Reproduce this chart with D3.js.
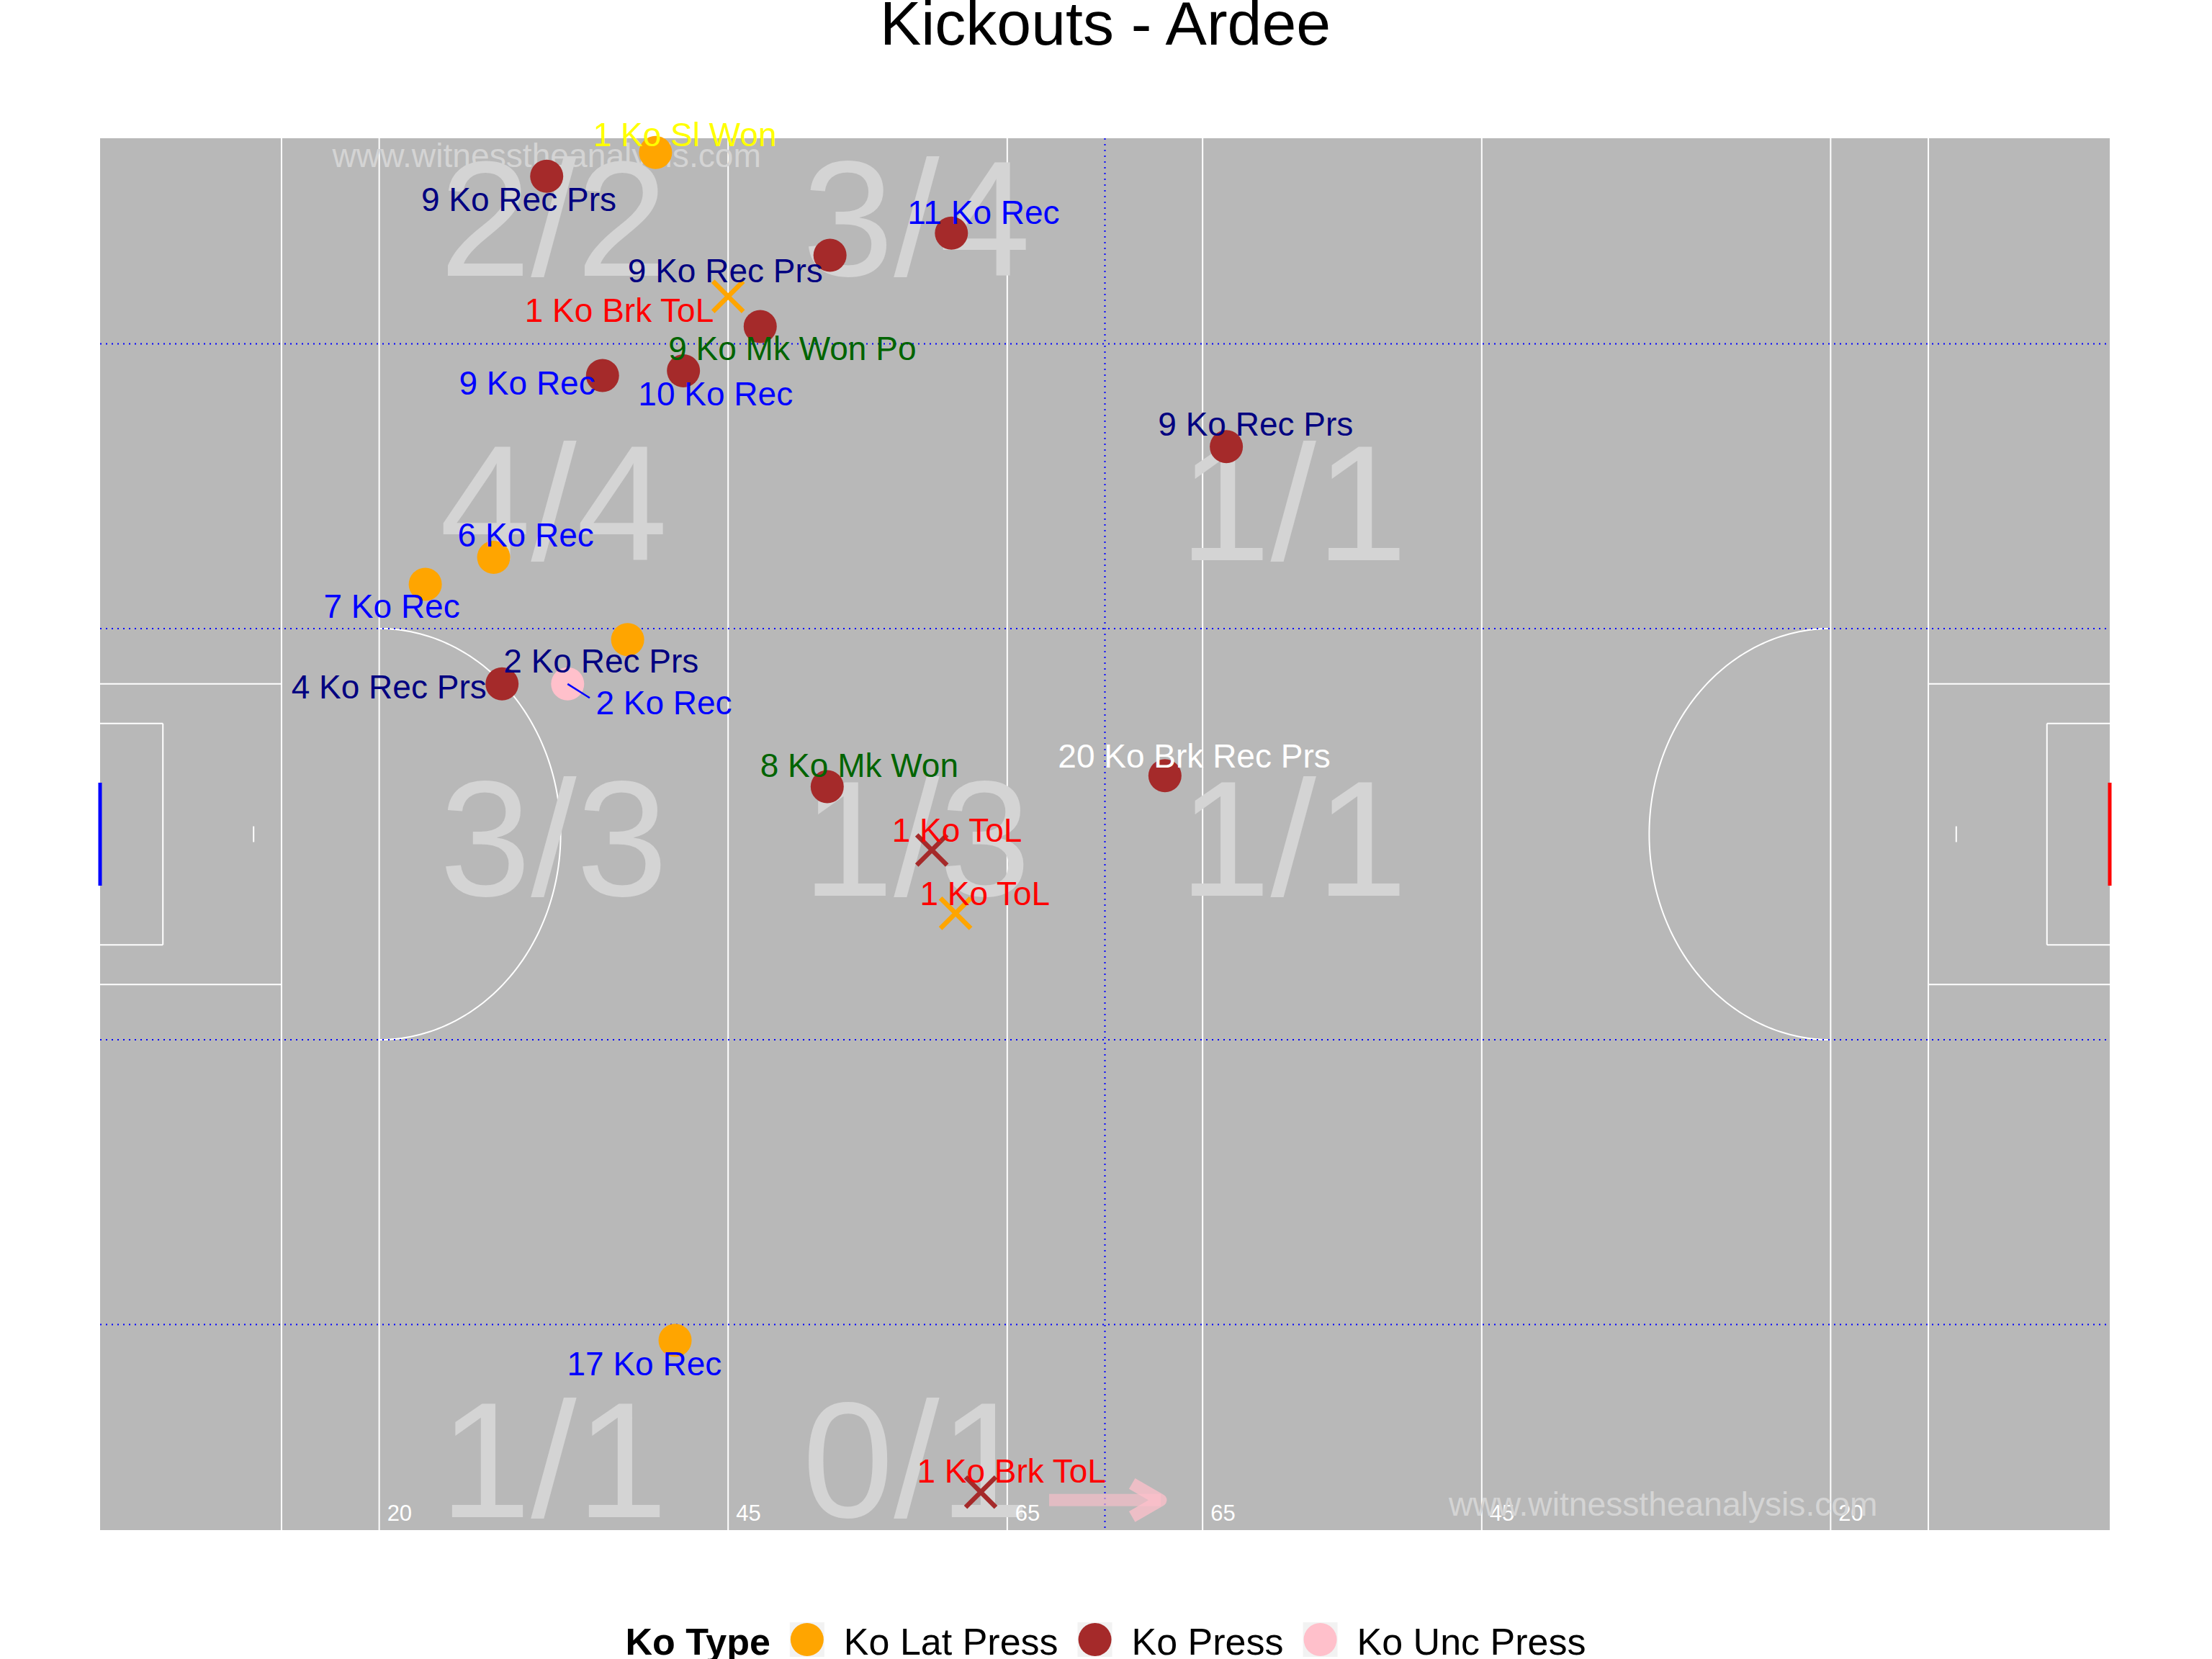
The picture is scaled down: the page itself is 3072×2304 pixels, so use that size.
<!DOCTYPE html>
<html><head><meta charset="utf-8">
<script src="https://cdn.jsdelivr.net/npm/d3@7"></script>
<style>body{margin:0;background:#fff}svg{display:block}text{font-family:"Liberation Sans",Arial,sans-serif}</style>
</head><body>
<svg id="chart" width="3072" height="2304"></svg>
<script>
// ---------- data ----------
const kickX = [39.8, 32.0, 52.3, 61.0, 45.0, 47.3, 36.0, 41.8, 28.2, 23.3, 37.8, 28.8, 33.5, 52.1, 59.6, 61.3, 80.7, 76.3, 41.2, 63.1];
const kickY = [87.1, 85.6, 80.6, 82.0, 78.0, 76.1, 73.0, 73.3, 61.5, 59.8, 56.3, 53.5, 53.5, 47.0, 43.0, 39.0, 68.5, 47.7, 12.0, 2.4];
const koType = ["Ko Lat Press","Ko Press","Ko Press","Ko Press","Ko Lat Press","Ko Press","Ko Press","Ko Press","Ko Lat Press","Ko Lat Press","Ko Lat Press","Ko Press","Ko Unc Press","Ko Press","Ko Press","Ko Lat Press","Ko Press","Ko Press","Ko Lat Press","Ko Press"];
const outcome = ["Ko Sl Won","Ko Rec Prs","Ko Rec Prs","Ko Rec","Ko Brk ToL","Ko Mk Won Po","Ko Rec","Ko Rec","Ko Rec","Ko Rec","Ko Rec Prs","Ko Rec Prs","Ko Rec","Ko Mk Won","Ko ToL","Ko ToL","Ko Rec Prs","Ko Brk Rec Prs","Ko Rec","Ko Brk ToL"];
const kickNo = [1, 9, 9, 11, 1, 9, 9, 10, 6, 7, 2, 4, 2, 8, 1, 1, 9, 20, 17, 1];
const labelX = [41.9, 30.0, 44.8, 63.3, 37.2, 49.6, 30.6, 44.1, 30.5, 20.9, 35.9, 20.7, 40.4, 54.4, 61.4, 63.4, 82.8, 78.4, 39.0, 65.3];
const labelY = [87.5, 83.4, 78.9, 82.6, 76.4, 74.0, 71.8, 71.1, 62.2, 57.7, 54.2, 52.6, 51.6, 47.6, 43.5, 39.5, 69.2, 48.2, 9.8, 3.0];

const zoneLabel = ["2/2", "3/4", "4/4", "1/1", "3/3", "1/3", "1/1", "1/1", "0/1"];
const zoneX = [32.5, 58.5, 32.5, 85.5, 32.5, 58.5, 85.5, 32.5, 58.5];
const zoneY = [79.3, 79.3, 61.3, 61.3, 40.1, 40.1, 40.1, 0.8, 0.8];

const yardX = [20, 45, 65, 79, 99, 124];
const yardLabel = ["20", "45", "65", "65", "45", "20"];
const watermarkX = [32, 112];
const watermarkY = [86.2, 0.9];
const arrowX = [68, 76];
const arrowY = 1.9;

const typeDomain = ["Ko Lat Press", "Ko Press", "Ko Unc Press"];
const typeColours = ["orange", "brown", "pink"];
const outcomeDomain = ["Ko Rec Prs", "Ko Rec", "Ko Brk ToL", "Ko ToL", "Ko Mk Won Po", "Ko Mk Won", "Ko Sl Won", "Ko Brk Rec Prs"];
const outcomeColours = ["navy", "blue", "red", "red", "darkgreen", "darkgreen", "yellow", "white"];
const lostOutcomes = ["Ko Brk ToL", "Ko ToL"];

// ---------- setup ----------
const svg = d3.select("#chart");
const x = d3.scaleLinear().domain([0, 144]).range([139, 2930]);
const y = d3.scaleLinear().domain([0, 88]).range([2125, 192]);
const colType = d3.scaleOrdinal().domain(typeDomain).range(typeColours);
const colOut = d3.scaleOrdinal().domain(outcomeDomain).range(outcomeColours);

// title
svg.append("text").attr("x", 1535).attr("y", 62).attr("text-anchor", "middle")
  .attr("font-size", 86).attr("fill", "black").text("Kickouts - Ardee");

// panel
svg.append("rect").attr("x", x(0)).attr("y", y(88)).attr("width", x(144) - x(0)).attr("height", y(0) - y(88)).attr("fill", "#b8b8b8");

const pitch = svg.append("g").attr("stroke", "white").attr("stroke-width", 2).attr("fill", "none");
[13, 20, 45, 65, 79, 99, 124, 131].forEach(v => pitch.append("line").attr("x1", x(v)).attr("x2", x(v)).attr("y1", y(0)).attr("y2", y(88)));
[[0, 13], [131, 144]].forEach(([a, b]) => {
  [34.5, 53.5].forEach(v => pitch.append("line").attr("x1", x(a)).attr("x2", x(b)).attr("y1", y(v)).attr("y2", y(v)));
});
[[0, 4.5], [139.5, 144]].forEach(([a, b]) => {
  [37, 51].forEach(v => pitch.append("line").attr("x1", x(a)).attr("x2", x(b)).attr("y1", y(v)).attr("y2", y(v)));
  const e = a === 0 ? b : a;
  pitch.append("line").attr("x1", x(e)).attr("x2", x(e)).attr("y1", y(37)).attr("y2", y(51));
});
[11, 133].forEach(v => pitch.append("line").attr("x1", x(v)).attr("x2", x(v)).attr("y1", y(43.5)).attr("y2", y(44.5)));
const arcLine = d3.line().x(d => d[0]).y(d => d[1]);
[[20, 1], [124, -1]].forEach(([cx, dir]) => {
  const pts = d3.range(-90, 90.5, 1).map(a => {
    const r = a * Math.PI / 180;
    return [x(cx + dir * 13 * Math.cos(r)), y(44 + 13 * Math.sin(r))];
  });
  pitch.append("path").attr("d", arcLine(pts));
});

// zone fractions
svg.append("g").selectAll("text").data(zoneLabel).join("text")
  .attr("x", (d, i) => x(zoneX[i])).attr("y", (d, i) => y(zoneY[i]))
  .attr("text-anchor", "middle").attr("font-size", 228).attr("fill", "#d4d4d4").text(d => d);

// dotted guide lines
const dots = svg.append("g").attr("stroke", "blue").attr("stroke-width", 2).attr("stroke-dasharray", "2,6");
[13, 31, 57, 75].forEach(v => dots.append("line").attr("x1", x(0)).attr("x2", x(144)).attr("y1", y(v)).attr("y2", y(v)));
dots.append("line").attr("x1", x(72)).attr("x2", x(72)).attr("y1", y(88)).attr("y2", y(0));

// goal lines
svg.append("line").attr("x1", x(0)).attr("x2", x(0)).attr("y1", y(40.75)).attr("y2", y(47.25)).attr("stroke", "blue").attr("stroke-width", 5);
svg.append("line").attr("x1", x(144)).attr("x2", x(144)).attr("y1", y(40.75)).attr("y2", y(47.25)).attr("stroke", "red").attr("stroke-width", 5);

// yard labels
svg.append("g").selectAll("text").data(yardLabel).join("text")
  .attr("x", (d, i) => x(yardX[i]) + 11).attr("y", y(0.59))
  .attr("font-size", 31).attr("fill", "white").text(d => d);

// watermarks
svg.append("g").selectAll("text").data(watermarkX).join("text")
  .attr("x", d => x(d)).attr("y", (d, i) => y(watermarkY[i]))
  .attr("text-anchor", "middle").attr("font-size", 46.2).attr("fill", "#d4d4d4").text("www.witnesstheanalysis.com");

// arrow
const ax0 = x(arrowX[0]), ax1 = x(arrowX[1]), ay = y(arrowY);
svg.append("line").attr("x1", ax0).attr("x2", ax1).attr("y1", ay).attr("y2", ay)
  .attr("stroke", "pink").attr("stroke-width", 17).attr("opacity", 0.6);
const hl = 46, ha = Math.PI / 6;
svg.append("path")
  .attr("d", `M${ax1 - hl * Math.cos(ha)},${ay - hl * Math.sin(ha)}L${ax1},${ay}L${ax1 - hl * Math.cos(ha)},${ay + hl * Math.sin(ha)}`)
  .attr("fill", "none").attr("stroke", "pink").attr("stroke-width", 17).attr("stroke-linejoin", "round").attr("opacity", 0.75);

// points
const R = 23, XR = 21;
const pts = svg.append("g");
kickX.forEach((v, i) => {
  const px = x(v), py = y(kickY[i]);
  if (lostOutcomes.includes(outcome[i])) {
    pts.append("path").attr("d", `M${px - XR},${py - XR}L${px + XR},${py + XR}M${px - XR},${py + XR}L${px + XR},${py - XR}`)
      .attr("stroke", colType(koType[i])).attr("stroke-width", 6.5).attr("fill", "none");
  } else {
    pts.append("circle").attr("cx", px).attr("cy", py).attr("r", R).attr("fill", colType(koType[i]));
  }
});

// labels with repel-style segments
const labs = svg.append("g");
kickX.forEach((v, i) => {
  const px = x(v), py = y(kickY[i]);
  const base = y(labelY[i]);
  const t = labs.append("text").attr("x", x(labelX[i])).attr("y", base)
    .attr("text-anchor", "middle").attr("font-size", 46).attr("fill", colOut(outcome[i]))
    .text(kickNo[i] + " " + outcome[i]);
  const bb = t.node().getBBox();
  const tx0 = bb.x, tx1 = bb.x + bb.width, ty0 = base - 34, ty1 = base;
  const cx = Math.max(tx0, Math.min(px, tx1)), cy = Math.max(ty0, Math.min(py, ty1));
  const dist = Math.hypot(cx - px, cy - py);
  if (dist > R + 12) {
    const gx = Math.max(tx0, Math.min(px, tx1)), gy = base - 17;
    const dx = gx - px, dy = gy - py, L = Math.hypot(dx, dy);
    const f = (L - 10) / L;
    labs.insert("line", "text").attr("x1", px).attr("y1", py).attr("x2", px + dx * f).attr("y2", py + dy * f)
      .attr("stroke", colOut(outcome[i])).attr("stroke-width", 2.5);
  }
});

// legend
const lg = svg.append("g");
const lgY = 2298;
const title = lg.append("text").attr("x", 0).attr("y", lgY).attr("font-size", 52).attr("font-weight", "bold").attr("fill", "black").text("Ko Type");
let cur = title.node().getComputedTextLength() + 27;
typeDomain.forEach(tp => {
  lg.append("rect").attr("x", cur).attr("y", 2253).attr("width", 48).attr("height", 48).attr("fill", "#f2f2f2");
  lg.append("circle").attr("cx", cur + 24).attr("cy", 2277).attr("r", R).attr("fill", colType(tp));
  cur += 48 + 27;
  const tx = lg.append("text").attr("x", cur).attr("y", lgY).attr("font-size", 52).attr("fill", "black").text(tp);
  cur += tx.node().getComputedTextLength() + 27;
});
cur -= 27;
lg.attr("transform", `translate(${1535.5 - cur / 2},0)`);
</script>
</body></html>
